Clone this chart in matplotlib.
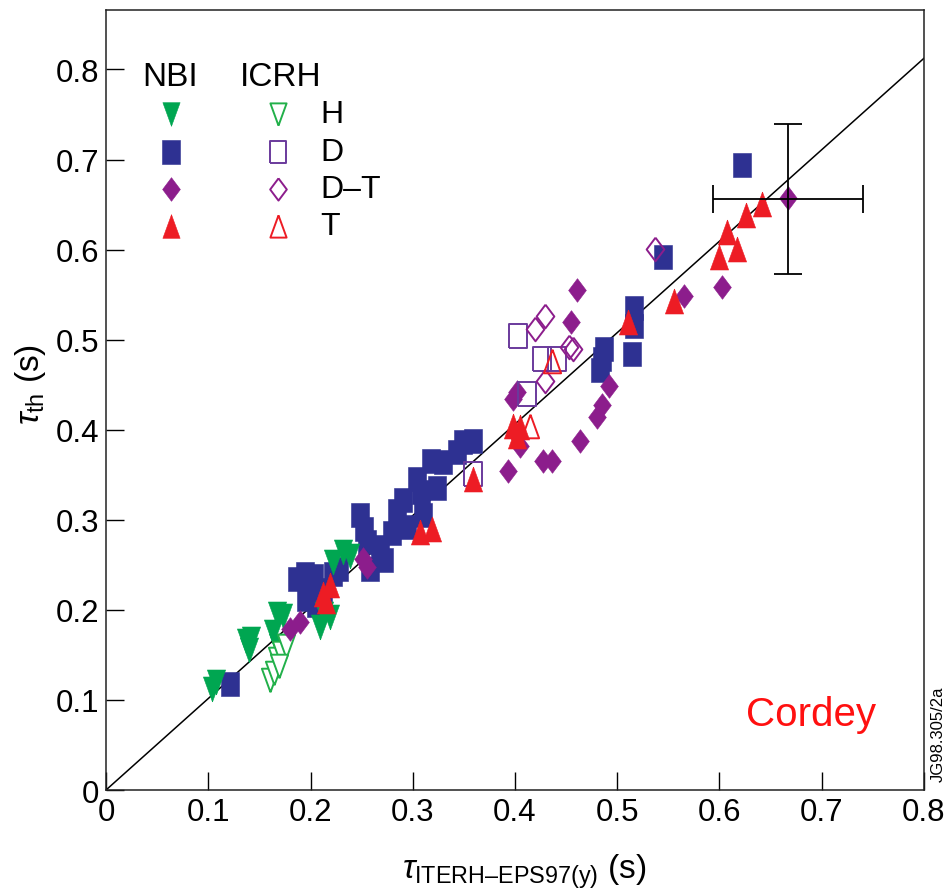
import matplotlib
matplotlib.use("Agg")
import matplotlib.pyplot as plt
import numpy as np

plt.rcParams['font.family'] = ['Liberation Sans', 'DejaVu Sans']
plt.rcParams['mathtext.fontset'] = 'custom'
plt.rcParams['mathtext.rm'] = 'Liberation Sans'
plt.rcParams['mathtext.it'] = 'Liberation Sans:italic'

# NBI H (filled green, down triangles)
nbi_h_x = [0.104, 0.108, 0.137, 0.140, 0.142, 0.163, 0.168, 0.173, 0.167, 0.209, 0.213, 0.219, 0.222, 0.232, 0.239]
nbi_h_y = [0.112, 0.120, 0.165, 0.155, 0.168, 0.175, 0.160, 0.193, 0.195, 0.181, 0.195, 0.192, 0.253, 0.264, 0.260]

# ICRH H (open green, down triangles)
icrh_h_x = [0.160, 0.164, 0.167, 0.171, 0.176, 0.169]
icrh_h_y = [0.122, 0.130, 0.145, 0.152, 0.160, 0.138]

# NBI D (blue squares)
nbi_d_x = [0.121, 0.187, 0.195, 0.203, 0.196, 0.205, 0.212, 0.222, 0.228,
           0.248, 0.252, 0.255, 0.258, 0.268, 0.272, 0.280, 0.285, 0.290, 0.294,
           0.304, 0.308, 0.310, 0.318, 0.324, 0.330, 0.343, 0.349, 0.359,
           0.483, 0.485, 0.487, 0.514, 0.516, 0.516, 0.545, 0.622]
nbi_d_y = [0.118, 0.234, 0.240, 0.238, 0.212, 0.205, 0.222, 0.240, 0.245,
           0.305, 0.290, 0.275, 0.245, 0.270, 0.255, 0.285, 0.310, 0.322, 0.292,
           0.345, 0.331, 0.305, 0.365, 0.335, 0.364, 0.375, 0.386, 0.388,
           0.466, 0.479, 0.490, 0.484, 0.515, 0.535, 0.592, 0.694]

# ICRH D (open squares)
icrh_d_x = [0.403, 0.426, 0.441, 0.412, 0.359]
icrh_d_y = [0.504, 0.479, 0.479, 0.440, 0.351]

# NBI D-T (filled diamonds)
nbi_dt_x = [0.180, 0.190, 0.251, 0.255, 0.393, 0.398, 0.402, 0.405, 0.427, 0.436,
            0.455, 0.461, 0.464, 0.480, 0.485, 0.492, 0.565, 0.602, 0.667]
nbi_dt_y = [0.179, 0.187, 0.257, 0.248, 0.354, 0.434, 0.442, 0.382, 0.365, 0.365,
            0.520, 0.555, 0.388, 0.414, 0.427, 0.449, 0.548, 0.559, 0.657]

# ICRH D-T (open diamonds)
icrh_dt_x = [0.420, 0.429, 0.453, 0.457, 0.429, 0.537]
icrh_dt_y = [0.512, 0.526, 0.492, 0.490, 0.454, 0.601]

# NBI T (filled red triangles)
nbi_t_x = [0.212, 0.219, 0.215, 0.307, 0.319, 0.359, 0.398, 0.405, 0.402,
           0.511, 0.556, 0.600, 0.607, 0.617, 0.626, 0.642]
nbi_t_y = [0.218, 0.228, 0.210, 0.286, 0.290, 0.345, 0.404, 0.403, 0.393,
           0.520, 0.543, 0.592, 0.620, 0.601, 0.638, 0.651]

# ICRH T (open red triangles)
icrh_t_x = [0.436, 0.415]
icrh_t_y = [0.476, 0.404]

# typical error bar
err_x, err_y = 0.667, 0.656
err_dx, err_dy = 0.073, 0.083

# reference line
ref_x = [0.0, 0.9]
ref_y = [0.0, 0.914]

green = '#00a651'
green_open = '#22b04a'
blue = '#2e3192'
purple = '#8c1d8c'
violet = '#6a3a9c'
red = '#ed1c24'

# stretched marker shapes (taller than wide)
tri_up = [(0, 1), (-0.73, -1), (0.73, -1), (0, 1)]
tri_dn = [(0, -1), (-0.73, 1), (0.73, 1), (0, -1)]
square = [(-0.75, -1), (0.75, -1), (0.75, 1), (-0.75, 1), (-0.75, -1)]
diamond = [(0, 1), (0.75, 0), (0, -1), (-0.75, 0), (0, 1)]

fig = plt.figure(figsize=(9.5, 8.95), dpi=100)
ax = fig.add_axes([0.1116, 0.1162, 0.8610, 0.8715])

ax.plot(ref_x, ref_y, color='black', lw=1.1, zorder=1)

ax.plot(nbi_d_x, nbi_d_y, ls='none', marker=square, ms=17, color=blue, mew=0.4, zorder=2)
ax.plot(nbi_h_x, nbi_h_y, ls='none', marker=tri_dn, ms=18, color=green, mew=0.4, zorder=3)
ax.plot(icrh_h_x, icrh_h_y, ls='none', marker=tri_dn, ms=17, mfc='white', mec=green_open, mew=1.4, zorder=3)
ax.plot(nbi_dt_x, nbi_dt_y, ls='none', marker=diamond, ms=17, color=purple, mew=0.4, zorder=4)
ax.plot(icrh_d_x, icrh_d_y, ls='none', marker=square, ms=17, mfc='none', mec=violet, mew=1.4, zorder=4)
ax.plot(icrh_dt_x, icrh_dt_y, ls='none', marker=diamond, ms=17, mfc='none', mec=purple, mew=1.4, zorder=4)
ax.plot(icrh_t_x, icrh_t_y, ls='none', marker=tri_up, ms=17, mfc='none', mec=red, mew=1.4, zorder=5)
ax.plot(nbi_t_x, nbi_t_y, ls='none', marker=tri_up, ms=18, color=red, mew=0.4, zorder=6)

ax.errorbar([err_x], [err_y], xerr=[err_dx], yerr=[err_dy], fmt='none',
            ecolor='black', elinewidth=1.3, capsize=10, capthick=1.3, zorder=7)

ax.set_xlim(0, 0.8)
ax.set_ylim(0, 0.866)
ax.set_xticks(np.arange(0, 0.81, 0.1))
ax.set_yticks(np.arange(0, 0.81, 0.1))
ax.set_xticklabels(['0', '0.1', '0.2', '0.3', '0.4', '0.5', '0.6', '0.7', '0.8'])
ax.set_yticklabels(['0', '0.1', '0.2', '0.3', '0.4', '0.5', '0.6', '0.7', '0.8'])
ax.tick_params(direction='in', length=13, width=1.0, labelsize=22.5, pad=5)
for s in ax.spines.values():
    s.set_linewidth(1.1)
    s.set_color('#222222')

# legend block
ax.text(0.078, 0.915, 'NBI', transform=ax.transAxes, fontsize=24, ha='center', va='center')
ax.text(0.214, 0.915, 'ICRH', transform=ax.transAxes, fontsize=24, ha='center', va='center')
rows = [0.8667, 0.8179, 0.7705, 0.7231]
names = ['H', 'D', 'D\u2013T', 'T']
nbi_style = [(tri_dn, green), (square, blue), (diamond, purple), (tri_up, red)]
icrh_style = [(tri_dn, green_open), (square, violet), (diamond, purple), (tri_up, red)]
for r, n, (m1, c1), (m2, c2) in zip(rows, names, nbi_style, icrh_style):
    ax.plot([0.0795], [r], transform=ax.transAxes, marker=m1, ms=17, color=c1, mew=0.4, clip_on=False)
    ax.plot([0.2103], [r], transform=ax.transAxes, marker=m2, ms=16, mfc='white', mec=c2, mew=1.4, clip_on=False)
    ax.text(0.262, r, n, transform=ax.transAxes, fontsize=23, ha='left', va='center')

ax.text(0.862, 0.097, 'Cordey', transform=ax.transAxes, fontsize=29, color='#ff1010',
        ha='center', va='center')

fig.text(0.032, 0.57, r'$\tau_{\mathrm{th}}$ (s)', rotation=90, fontsize=24, ha='center', va='center')
fig.text(0.552, 0.026, '$\\tau_{\\mathrm{ITERH\u2013EPS97(y)}}$ (s)', fontsize=24, ha='center', va='center')
fig.text(0.988, 0.18, 'JG98.305/2a', rotation=90, fontsize=12, ha='center', va='center')

fig.savefig('out.png', dpi=100)
